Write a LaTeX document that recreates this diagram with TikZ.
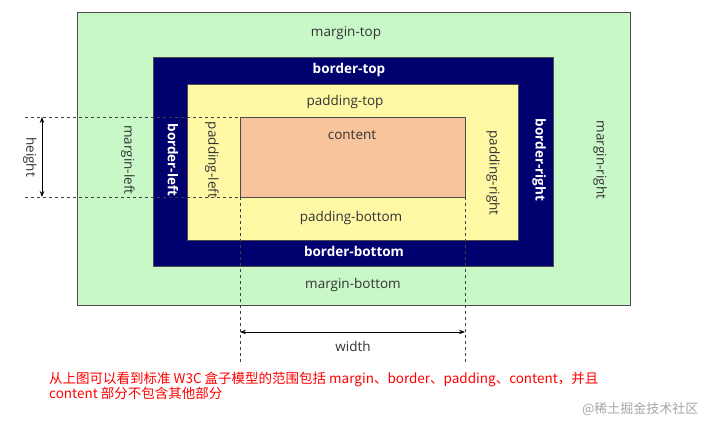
\documentclass[tikz,border=0pt]{standalone}
\usepackage{fontspec}
\setmainfont{Open Sans}
\newfontfamily\cjk{Noto Sans CJK SC}
\usetikzlibrary{arrows.meta}
\definecolor{mg}{HTML}{C8F7C8}
\definecolor{bd}{HTML}{00006E}
\definecolor{pd}{HTML}{FFF9A6}
\definecolor{ct}{HTML}{F8C49C}
\definecolor{tx}{HTML}{333333}
\tikzset{
 box/.style={draw=black!70,line width=0.5pt},
 lbl/.style={font=\fontsize{13.5}{15}\selectfont,text=tx},
 blbl/.style={font=\fontsize{13.5}{15}\selectfont\bfseries,text=white},
 dsh/.style={dashed,draw=black!75,line width=0.5pt},
 dim/.style={{Stealth[length=6pt]}-{Stealth[length=6pt]},line width=0.8pt}
}
\begin{document}
\begin{tikzpicture}[x=1pt,y=-1pt]
\useasboundingbox (0,0) rectangle (703,423);
\fill[white] (0,0) rectangle (703,423);
\draw[box,fill=mg] (77,12) rectangle (630,305);
\draw[box,fill=bd] (153,57) rectangle (553,266);
\draw[box,fill=pd] (187,84) rectangle (518,240);
\draw[box,fill=ct] (240,117) rectangle (465,197);
\node[lbl] (mt) at (346,33) {margin-top};
\node[lbl] (mb) at (353,285) {margin-bottom};
\node[lbl,rotate=-90] (ml) at (128,160) {margin-left};
\node[lbl,rotate=-90] (mr) at (600,160) {margin-right};
\node[blbl] (bt) at (349,70) {border-top};
\node[blbl] (bb) at (354,251) {border-bottom};
\node[blbl,rotate=-90] (bl) at (173,160) {border-left};
\node[blbl,rotate=-90] (br) at (539,160) {border-right};
\node[lbl] (pt) at (345,102) {padding-top};
\node[lbl] (pb) at (351,218) {padding-bottom};
\node[lbl,rotate=-90] (pl) at (212,160) {padding-left};
\node[lbl,rotate=-90] (pr) at (493,173) {padding-right};
\node[lbl] (c) at (352,135) {content};
\coordinate (h1) at (25,117); \coordinate (h2) at (25,197);
\coordinate (w1) at (240,365); \coordinate (w2) at (465,365);
\draw[dsh] (h1) -- (240,117);
\draw[dsh] (h2) -- (240,197);
\draw[dsh] (240,197) -- (w1);
\draw[dsh] (465,197) -- (w2);
\coordinate (ha) at (42,117); \coordinate (hb) at (42,197);
\draw[dim] (ha) -- (hb);
\node[lbl,rotate=-90] (ht) at (30,157) {height};
\coordinate (wa) at (240,332); \coordinate (wb) at (465,332);
\draw[dim] (wa) -- (wb);
\node[lbl] (wt) at (353,346) {width};
\node[anchor=north west,align=left,text=red,font=\cjk\fontsize{13.5}{15}\selectfont,inner sep=0pt] (note) at (49,372)
 {从上图可以看到标准 W3C 盒子模型的范围包括 margin、border、padding、content，并且\\content 部分不包含其他部分};
\node[anchor=east,text=black!35,font=\cjk\fontsize{13}{14}\selectfont] (wm) at (702,409) {@稀土掘金技术社区};
\end{tikzpicture}
\end{document}
